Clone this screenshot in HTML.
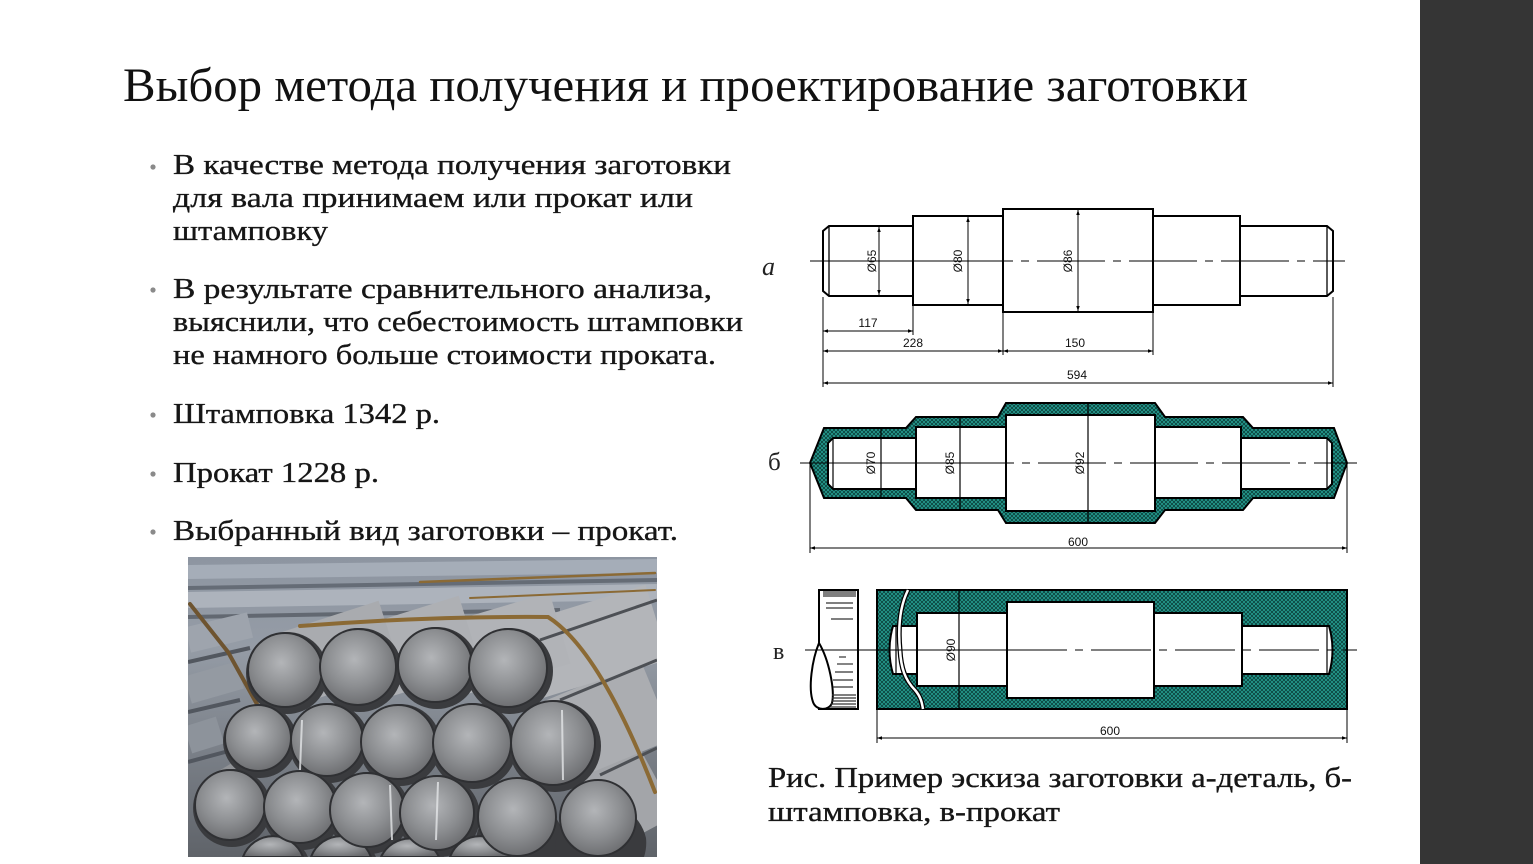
<!DOCTYPE html>
<html>
<head>
<meta charset="utf-8">
<style>
  html,body{margin:0;padding:0;background:#fff;overflow:hidden;}
  body{width:1533px;height:864px;overflow:hidden;}
  svg{display:block;}
  .t{font-family:"Liberation Serif","Noto Serif CJK SC",serif;fill:#161616;stroke:#161616;stroke-width:0.35;}
  .d{font-family:"Liberation Sans",sans-serif;font-size:12px;fill:#111;}
</style>
</head>
<body>
<svg width="1533" height="864" viewBox="0 0 1533 864" xmlns="http://www.w3.org/2000/svg">
  <defs>
    <pattern id="hatch" width="4" height="4" patternUnits="userSpaceOnUse">
      <rect width="4" height="4" fill="#26a093"/>
      <path d="M0,0 L4,4 M4,0 L0,4" stroke="#0b423d" stroke-width="0.9"/>
    </pattern>
    <marker id="ar" viewBox="0 0 10 10" refX="10" refY="5" markerWidth="8" markerHeight="5" markerUnits="userSpaceOnUse" orient="auto-start-reverse">
      <path d="M0,1.5 L10,5 L0,8.5 Z" fill="#000"/>
    </marker>
    <radialGradient id="cg" cx="45%" cy="40%" r="65%">
      <stop offset="0" stop-color="#b3b5b8"/>
      <stop offset="0.55" stop-color="#8c8e91"/>
      <stop offset="1" stop-color="#68696c"/>
    </radialGradient>
    <linearGradient id="bg" x1="0" y1="0" x2="0" y2="1">
      <stop offset="0" stop-color="#8d95a1"/>
      <stop offset="0.3" stop-color="#959ca6"/>
      <stop offset="1" stop-color="#5f6369"/>
    </linearGradient>
    <clipPath id="pc"><rect x="188" y="557" width="469" height="300"/></clipPath>
  </defs>

  <!-- right dark bar -->
  <rect x="1420" y="0" width="113" height="864" fill="#353535"/>

  <!-- Title -->
  <text class="t" x="123" y="101" font-size="48" style="fill:#111;stroke:none" textLength="1125" lengthAdjust="spacingAndGlyphs">Выбор метода получения и проектирование заготовки</text>

  <!-- Bullets -->
  <g fill="#8a8a8a">
    <circle cx="153" cy="167" r="2.6"/>
    <circle cx="153" cy="290" r="2.6"/>
    <circle cx="153" cy="415" r="2.6"/>
    <circle cx="153" cy="474" r="2.6"/>
    <circle cx="153" cy="532" r="2.6"/>
  </g>
  <g class="t" font-size="29">
    <text x="173" y="174" textLength="558" lengthAdjust="spacingAndGlyphs">В качестве метода получения заготовки</text>
    <text x="173" y="207" textLength="520" lengthAdjust="spacingAndGlyphs">для вала принимаем или прокат или</text>
    <text x="173" y="240" textLength="155" lengthAdjust="spacingAndGlyphs">штамповку</text>
    <text x="173" y="298" textLength="539" lengthAdjust="spacingAndGlyphs">В результате сравнительного анализа,</text>
    <text x="173" y="331" textLength="570" lengthAdjust="spacingAndGlyphs">выяснили, что себестоимость штамповки</text>
    <text x="173" y="364" textLength="543" lengthAdjust="spacingAndGlyphs">не намного больше стоимости проката.</text>
    <text x="173" y="423" textLength="267" lengthAdjust="spacingAndGlyphs">Штамповка 1342 р.</text>
    <text x="173" y="482" textLength="206" lengthAdjust="spacingAndGlyphs">Прокат 1228 р.</text>
    <text x="173" y="540" textLength="505" lengthAdjust="spacingAndGlyphs">Выбранный вид заготовки – прокат.</text>
  </g>

  <!-- Photo -->
  <g clip-path="url(#pc)">
    <rect x="188" y="557" width="469" height="300" fill="url(#bg)"/>
    <g stroke-linecap="butt">
      <line x1="188" y1="572" x2="657" y2="566" stroke="#a5adb8" stroke-width="14"/>
      <line x1="188" y1="588" x2="657" y2="580" stroke="#656c76" stroke-width="4"/>
      <line x1="188" y1="600" x2="657" y2="592" stroke="#adb3bc" stroke-width="16"/>
      <line x1="188" y1="617" x2="560" y2="610" stroke="#626871" stroke-width="4"/>
      <line x1="188" y1="640" x2="250" y2="625" stroke="#9ea4ad" stroke-width="26"/>
      <line x1="188" y1="690" x2="240" y2="675" stroke="#949aa2" stroke-width="28"/>
      <line x1="188" y1="740" x2="220" y2="730" stroke="#8d939b" stroke-width="28"/>
      <line x1="188" y1="662" x2="250" y2="648" stroke="#52575f" stroke-width="4"/>
      <line x1="188" y1="712" x2="240" y2="700" stroke="#52575f" stroke-width="4"/>
      <line x1="188" y1="762" x2="225" y2="752" stroke="#52575f" stroke-width="4"/>
    </g>
    <!-- bodies of front bars -->
    <g stroke-linecap="butt">
      <line x1="598" y1="812" x2="657" y2="780" stroke="#a3a5a9" stroke-width="80"/>
      <line x1="553" y1="743" x2="657" y2="700" stroke="#abadb1" stroke-width="84"/>
      <line x1="508" y1="668" x2="657" y2="622" stroke="#b3b5b9" stroke-width="78"/>
      <line x1="435" y1="665" x2="560" y2="628" stroke="#b1b3b7" stroke-width="74"/>
      <line x1="358" y1="667" x2="470" y2="632" stroke="#aeb0b4" stroke-width="76"/>
      <line x1="285" y1="670" x2="390" y2="636" stroke="#a9abaf" stroke-width="74"/>
      <line x1="258" y1="738" x2="290" y2="720" stroke="#96989c" stroke-width="66"/>
      <line x1="230" y1="805" x2="255" y2="790" stroke="#909296" stroke-width="70"/>
    </g>
    <g stroke="#4d5055" stroke-width="3" fill="none">
      <path d="M560,700 L657,660"/>
      <path d="M600,775 L657,748"/>
      <path d="M540,640 L657,600"/>
    </g>
    <!-- straps -->
    <g fill="none" stroke-linecap="round">
      <path d="M190,604 L228,652 L258,706" stroke="#6e5430" stroke-width="4"/>
      <path d="M300,626 Q430,616 548,617 Q600,650 655,792" stroke="#8b6a35" stroke-width="4"/>
      <path d="M420,582 L655,573" stroke="#8b6a35" stroke-width="2.5"/>
      <path d="M470,598 L655,590" stroke="#8b6a35" stroke-width="2"/>
    </g>
    <!-- shadows behind faces -->
    <g fill="#3a3b3e">
      <path d="M242,857 A36,36 0 0 1 308,857 Z"/>
      <path d="M310,857 A36,36 0 0 1 376,857 Z"/>
      <path d="M380,857 A36,36 0 0 1 444,857 Z"/>
      <path d="M449,857 A36,36 0 0 1 515,857 Z"/>
      <circle cx="287" cy="673" r="41"/>
      <circle cx="360" cy="670" r="42"/>
      <circle cx="437" cy="668" r="41"/>
      <circle cx="510" cy="671" r="43"/>
      <circle cx="260" cy="741" r="37"/>
      <circle cx="329" cy="743" r="40"/>
      <circle cx="400" cy="745" r="41"/>
      <circle cx="474" cy="746" r="43"/>
      <circle cx="555" cy="746" r="46"/>
      <circle cx="232" cy="808" r="39"/>
      <circle cx="302" cy="810" r="40"/>
      <circle cx="369" cy="813" r="41"/>
      <circle cx="439" cy="816" r="41"/>
      <path d="M478,857 A43,43 0 0 1 562,830 A43,43 0 0 1 560,857 Z"/>
      <path d="M556,857 A46,46 0 0 1 646,838 A46,46 0 0 1 644,857 Z"/>
    </g>
    <!-- faces -->
    <g fill="url(#cg)" stroke="#2f3033" stroke-width="2">
      <path d="M243,857 A32,32 0 0 1 303,857 Z"/>
      <path d="M311,857 A32,32 0 0 1 371,857 Z"/>
      <path d="M381,857 A32,32 0 0 1 439,857 Z"/>
      <path d="M450,857 A32,32 0 0 1 510,857 Z"/>
      <circle cx="285" cy="670" r="37"/>
      <circle cx="358" cy="667" r="38"/>
      <circle cx="435" cy="665" r="37"/>
      <circle cx="508" cy="668" r="39"/>
      <circle cx="258" cy="738" r="33"/>
      <circle cx="327" cy="740" r="36"/>
      <circle cx="398" cy="742" r="37"/>
      <circle cx="472" cy="743" r="39"/>
      <circle cx="553" cy="743" r="42"/>
      <circle cx="230" cy="805" r="35"/>
      <circle cx="300" cy="807" r="36"/>
      <circle cx="367" cy="810" r="37"/>
      <circle cx="437" cy="813" r="37"/>
      <path d="M479,825 A38,38 0 0 1 555,825 L555,817 A38,38 0 0 1 549,843 L485,843 A38,38 0 0 1 479,825 Z" style="display:none"/>
      <circle cx="517" cy="817" r="39"/>
      <circle cx="598" cy="818" r="38"/>
    </g>
    <g stroke="#e4e6e8" stroke-width="2" opacity="0.8">
      <line x1="302" y1="720" x2="300" y2="770"/>
      <line x1="390" y1="785" x2="392" y2="840"/>
      <line x1="438" y1="782" x2="436" y2="840"/>
      <line x1="562" y1="710" x2="563" y2="780"/>
    </g>
  </g>

  <!-- ========== Diagram а ========== -->
  <text x="762" y="275" font-family="Liberation Serif, serif" font-style="italic" font-size="26" fill="#222">а</text>
  <g fill="#fff" stroke="#000" stroke-width="2" stroke-linejoin="miter">
    <rect x="913" y="216" width="90" height="89"/>
    <rect x="1003" y="209" width="150" height="103"/>
    <rect x="1153" y="216" width="87" height="89"/>
    <path d="M829,226 L913,226 L913,296 L829,296 L823,291 L823,231 Z"/>
    <path d="M1240,226 L1327,226 L1333,231 L1333,291 L1327,296 L1240,296 Z"/>
  </g>
  <g stroke="#000" stroke-width="1.3" fill="none">
    <line x1="829" y1="226" x2="829" y2="296"/>
    <line x1="1327" y1="226" x2="1327" y2="296"/>
  </g>
  <g stroke="#000" stroke-width="1" fill="none">
    <line x1="810" y1="261" x2="1005" y2="261"/>
    <line x1="1005" y1="261" x2="1345" y2="261" stroke-dasharray="8,8,8,8,60,0"/>
  </g>
  <g stroke="#000" stroke-width="1" fill="none">
    <line x1="879" y1="227" x2="879" y2="295" marker-start="url(#ar)" marker-end="url(#ar)"/>
    <line x1="968" y1="217" x2="968" y2="304" marker-start="url(#ar)" marker-end="url(#ar)"/>
    <line x1="1078" y1="210" x2="1078" y2="311" marker-start="url(#ar)" marker-end="url(#ar)"/>
    <line x1="823" y1="297" x2="823" y2="387"/>
    <line x1="913" y1="306" x2="913" y2="335"/>
    <line x1="1003" y1="313" x2="1003" y2="355"/>
    <line x1="1153" y1="313" x2="1153" y2="355"/>
    <line x1="1333" y1="297" x2="1333" y2="387"/>
    <line x1="823" y1="331" x2="913" y2="331" marker-start="url(#ar)" marker-end="url(#ar)"/>
    <line x1="823" y1="351" x2="1003" y2="351" marker-start="url(#ar)" marker-end="url(#ar)"/>
    <line x1="1003" y1="351" x2="1153" y2="351" marker-start="url(#ar)" marker-end="url(#ar)"/>
    <line x1="823" y1="383" x2="1333" y2="383" marker-start="url(#ar)" marker-end="url(#ar)"/>
  </g>
  <g class="d" text-anchor="middle">
    <text x="868" y="327">117</text>
    <text x="913" y="347">228</text>
    <text x="1075" y="347">150</text>
    <text x="1077" y="379">594</text>
    <text transform="translate(876,261) rotate(-90)">Ø65</text>
    <text transform="translate(962,261) rotate(-90)">Ø80</text>
    <text transform="translate(1072,261) rotate(-90)">Ø86</text>
  </g>

  <!-- ========== Diagram б ========== -->
  <text x="768" y="470" font-family="Liberation Serif, serif" font-size="25" fill="#222">б</text>
  <path d="M810,463 L824,428 L906,428 L916,417 L998,417 L1006,403 L1155,403 L1165,417 L1243,417 L1253,428 L1334,428 L1347,463 L1334,498 L1253,498 L1243,510 L1165,510 L1155,523 L1006,523 L998,510 L916,510 L906,498 L824,498 Z" fill="url(#hatch)" stroke="#000" stroke-width="2"/>
  <path d="M833,438 L916,438 L916,427 L1006,427 L1006,415 L1155,415 L1155,427 L1241,427 L1241,438 L1327,438 L1332,443 L1332,484 L1327,489 L1241,489 L1241,498 L1155,498 L1155,511 L1006,511 L1006,498 L916,498 L916,489 L833,489 L828,484 L828,443 Z" fill="#fff" stroke="#000" stroke-width="2"/>
  <g stroke="#000" stroke-width="2" fill="none">
    <line x1="916" y1="427" x2="916" y2="498"/>
    <line x1="1006" y1="415" x2="1006" y2="511"/>
    <line x1="1155" y1="415" x2="1155" y2="511"/>
    <line x1="1241" y1="427" x2="1241" y2="498"/>
  </g>
  <g stroke="#000" stroke-width="1.2" fill="none">
    <line x1="833" y1="438" x2="833" y2="489"/>
    <line x1="1327" y1="438" x2="1327" y2="489"/>
    <line x1="881" y1="428" x2="881" y2="498"/>
    <line x1="960" y1="417" x2="960" y2="510"/>
    <line x1="1088" y1="403" x2="1088" y2="523"/>
  </g>
  <g stroke="#000" stroke-width="1" fill="none">
    <line x1="800" y1="463" x2="1006" y2="463"/>
    <line x1="1006" y1="463" x2="1357" y2="463" stroke-dasharray="8,8,8,8,60,0"/>
    <line x1="810" y1="463" x2="810" y2="553"/>
    <line x1="1347" y1="463" x2="1347" y2="553"/>
    <line x1="810" y1="548" x2="1347" y2="548" marker-start="url(#ar)" marker-end="url(#ar)"/>
  </g>
  <g class="d" text-anchor="middle">
    <text x="1078" y="546">600</text>
    <text transform="translate(875,463) rotate(-90)">Ø70</text>
    <text transform="translate(954,463) rotate(-90)">Ø85</text>
    <text transform="translate(1084,463) rotate(-90)">Ø92</text>
  </g>

  <!-- ========== Diagram в ========== -->
  <text x="773" y="659" font-family="Liberation Serif, serif" font-size="24" fill="#222">в</text>
  <g stroke="#000" stroke-width="2" fill="#fff">
    <path d="M819,590 L858,590 L858,709 L822,709 L819,709 L819,643 Z" />
    <path d="M819,643 C812,660 808,688 813,702 C816,711 829,711 832,703 C835,690 829,660 819,643 Z"/>
  </g>
  <g stroke="#333" stroke-width="1.2">
    <line x1="823" y1="592" x2="856" y2="592"/>
    <line x1="823" y1="594" x2="856" y2="594"/>
    <line x1="823" y1="596" x2="856" y2="596"/>
    <line x1="826" y1="603" x2="853" y2="603"/>
    <line x1="826" y1="608" x2="853" y2="608"/>
    <line x1="831" y1="619" x2="853" y2="619"/>
    <line x1="839" y1="657" x2="846" y2="657"/>
    <line x1="837" y1="664" x2="853" y2="664"/>
    <line x1="835" y1="672" x2="853" y2="672"/>
    <line x1="833" y1="680" x2="853" y2="680"/>
    <line x1="833" y1="687" x2="853" y2="687"/>
    <line x1="832" y1="695" x2="856" y2="695"/>
    <line x1="832" y1="698" x2="856" y2="698"/>
    <line x1="832" y1="701" x2="856" y2="701"/>
    <line x1="831" y1="704" x2="856" y2="704"/>
    <line x1="830" y1="707" x2="856" y2="707"/>
  </g>
  <rect x="877" y="590" width="470" height="119" fill="url(#hatch)" stroke="#000" stroke-width="2"/>
  <path d="M893,626 L917,626 L917,613 L1007,613 L1007,602 L1154,602 L1154,613 L1242,613 L1242,626 L1329,626 Q1336,650 1329,674 L1242,674 L1242,686 L1154,686 L1154,698 L1007,698 L1007,686 L917,686 L917,674 L893,674 Q886,650 893,626 Z" fill="#fff" stroke="#000" stroke-width="2"/>
  <g stroke="#000" stroke-width="2" fill="none">
    <line x1="917" y1="613" x2="917" y2="686"/>
    <line x1="1007" y1="602" x2="1007" y2="698"/>
    <line x1="1154" y1="602" x2="1154" y2="698"/>
    <line x1="1242" y1="613" x2="1242" y2="686"/>
  </g>
  <g stroke="#000" stroke-width="1.2" fill="none">
    <line x1="896" y1="626" x2="896" y2="674"/>
    <line x1="1327" y1="626" x2="1327" y2="674"/>
  </g>
  <path d="M908,590 C900,606 898,628 900,650 C901,668 905,680 915,690 C921,697 922,703 923,709" fill="none" stroke="#000" stroke-width="5"/>
  <path d="M908,590 C900,606 898,628 900,650 C901,668 905,680 915,690 C921,697 922,703 923,709" fill="none" stroke="#fff" stroke-width="2.5"/>
  <g stroke="#000" stroke-width="1.2" fill="none">
    <line x1="959" y1="590" x2="959" y2="709"/>
  </g>
  <g stroke="#000" stroke-width="1" fill="none">
    <line x1="805" y1="650" x2="1007" y2="650"/>
    <line x1="1007" y1="650" x2="1357" y2="650" stroke-dasharray="60,8,8,8"/>
    <line x1="877" y1="709" x2="877" y2="743"/>
    <line x1="1347" y1="709" x2="1347" y2="743"/>
    <line x1="877" y1="738" x2="1347" y2="738" marker-start="url(#ar)" marker-end="url(#ar)"/>
  </g>
  <g class="d" text-anchor="middle">
    <text x="1110" y="735">600</text>
    <text transform="translate(955,650) rotate(-90)">Ø90</text>
  </g>

  <!-- Caption -->
  <g class="t" font-size="28">
    <text x="768" y="787" textLength="584" lengthAdjust="spacingAndGlyphs">Рис. Пример эскиза заготовки а-деталь, б-</text>
    <text x="768" y="821" textLength="292" lengthAdjust="spacingAndGlyphs">штамповка, в-прокат</text>
  </g>
</svg>
</body>
</html>
